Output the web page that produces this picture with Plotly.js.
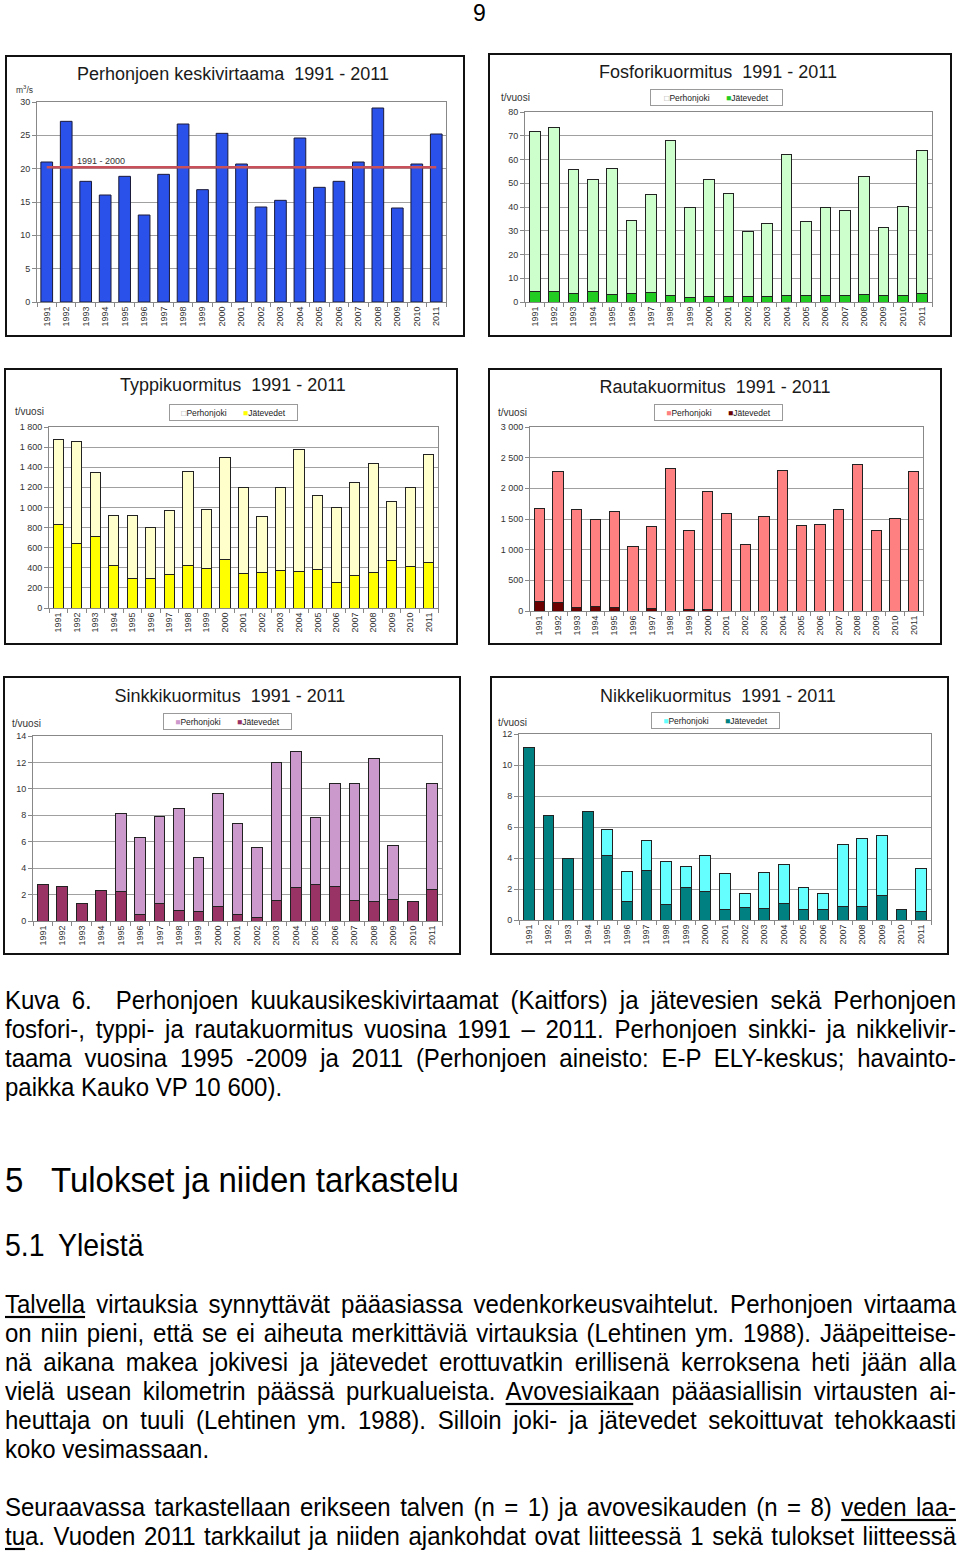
<!DOCTYPE html>
<html>
<head>
<meta charset="utf-8">
<script src="https://cdn.plot.ly/plotly-3.0.1.min.js"></script>
<style>
  html, body { margin: 0; padding: 0; background: #fff; }
  body { width: 960px; height: 1553px; position: relative; overflow: hidden;
         font-family: "Liberation Sans", Arial, sans-serif; color: #000; }
  .box { position: absolute; border: 2px solid #111; box-sizing: border-box; background: #fff; }
  .box > div { width: 100%; height: 100%; }
  .line { position: absolute; left: 5px; width: 951px; font-size: 24px; line-height: 29px;
          white-space: nowrap; text-align: justify; text-align-last: justify;
          transform: scaleY(1.08); transform-origin: 0 50%; }
  .line.last { text-align-last: left; }
  .txt { position: absolute; white-space: nowrap; transform: scaleY(1.08); transform-origin: 0 50%; }
  .pageno { position: absolute; left: 473px; top: 1px; font-size: 23px; line-height: 24px; }
  u { text-decoration-thickness: 1.5px; text-underline-offset: 3px; }
</style>
</head>
<body>

<div class="pageno">9</div>

<div id="c1" class="box"><div></div></div>
<div id="c2" class="box"><div></div></div>
<div id="c3" class="box"><div></div></div>
<div id="c4" class="box"><div></div></div>
<div id="c5" class="box"><div></div></div>
<div id="c6" class="box"><div></div></div>

<div class="line" style="top:985px;">Kuva 6.&nbsp; Perhonjoen kuukausikeskivirtaamat (Kaitfors) ja jätevesien sekä Perhonjoen</div>
<div class="line" style="top:1014px;">fosfori-, typpi- ja rautakuormitus vuosina 1991 – 2011. Perhonjoen sinkki- ja nikkelivir-</div>
<div class="line" style="top:1043px;">taama vuosina 1995 -2009 ja 2011 (Perhonjoen aineisto: E-P ELY-keskus; havainto-</div>
<div class="line last" style="top:1072px;">paikka Kauko VP 10 600).</div>

<div class="txt" style="left:5px; top:1161px; font-size:33px;">5</div>
<div class="txt" style="left:51px; top:1161px; font-size:33px;">Tulokset ja niiden tarkastelu</div>
<div class="txt" style="left:5px; top:1229px; font-size:28.5px;">5.1</div>
<div class="txt" style="left:58px; top:1229px; font-size:28.5px;">Yleistä</div>

<div class="line" style="top:1289px;"><u>Talvella</u> virtauksia synnyttävät pääasiassa vedenkorkeusvaihtelut. Perhonjoen virtaama</div>
<div class="line" style="top:1318px;">on niin pieni, että se ei aiheuta merkittäviä virtauksia (Lehtinen ym. 1988). Jääpeitteise-</div>
<div class="line" style="top:1347px;">nä aikana makea jokivesi ja jätevedet erottuvatkin erillisenä kerroksena heti jään alla</div>
<div class="line" style="top:1376px;">vielä usean kilometrin päässä purkualueista. <u>Avovesiaika</u>an pääasiallisin virtausten ai-</div>
<div class="line" style="top:1405px;">heuttaja on tuuli (Lehtinen ym. 1988). Silloin joki- ja jätevedet sekoittuvat tehokkaasti</div>
<div class="line last" style="top:1434px;">koko vesimassaan.</div>
<div class="line" style="top:1492px;">Seuraavassa tarkastellaan erikseen talven (n = 1) ja avovesikauden (n = 8) <u>veden laa-</u></div>
<div class="line" style="top:1521px;"><u>tu</u>a. Vuoden 2011 tarkkailut ja niiden ajankohdat ovat liitteessä 1 sekä tulokset liitteessä</div>

<script>
  // --- data ---
  const years = ["1991", "1992", "1993", "1994", "1995", "1996", "1997", "1998", "1999", "2000",
    "2001", "2002", "2003", "2004", "2005", "2006", "2007", "2008", "2009", "2010", "2011"];

  const virtaama = [21.0, 27.1, 18.1, 16.05, 18.85, 13.05, 19.15, 26.7, 16.85, 25.3,
    20.7, 14.25, 15.25, 24.6, 17.2, 18.1, 21.0, 29.1, 14.1, 20.7, 25.2];
  const virtaamaKa9100 = 20.2;

  const fosforiJoki = [67.0, 68.9, 52.1, 47.0, 53.1, 30.8, 41.2, 65.1, 37.9, 49.1,
    43.1, 27.4, 30.6, 59.1, 30.9, 36.9, 35.9, 49.6, 28.6, 37.6, 60.2];
  const fosforiJate = [4.6, 4.4, 3.6, 4.4, 3.2, 3.6, 3.9, 2.8, 2.0, 2.4,
    2.4, 2.4, 2.4, 2.8, 2.8, 2.8, 2.8, 3.2, 2.8, 2.8, 3.4];

  const typpiJoki = [844, 1016, 638, 501, 631, 511, 637, 930, 584, 1016,
    853, 558, 826, 1212, 744, 747, 926, 1082, 591, 787, 1079];
  const typpiJate = [833, 641, 707, 422, 289, 289, 329, 425, 395, 481,
    342, 352, 369, 362, 378, 252, 319, 352, 468, 408, 448];

  const rautaJoki = [1525, 2150, 1596, 1415, 1558, 1045, 1345, 2325, 1290, 1922,
    1590, 1089, 1541, 2298, 1399, 1416, 1655, 2390, 1307, 1508, 2281];
  const rautaJate = [147, 131, 65, 71, 65, 0, 38, 0, 22, 22,
    0, 0, 0, 0, 0, 0, 0, 0, 0, 0, 0];

  const sinkkiJoki = [null, null, null, null, 5.9, 5.82, 6.55, 7.67, 4.07, 8.6,
    6.9, 5.25, 10.49, 10.3, 5.05, 7.82, 8.88, 10.84, 4.06, null, 8.02];
  const sinkkiJate = [2.8, 2.6, 1.35, 2.3, 2.25, 0.48, 1.35, 0.83, 0.7, 1.06,
    0.5, 0.3, 1.54, 2.5, 2.8, 2.62, 1.54, 1.46, 1.64, 1.46, 2.4];

  const nikkeliJoki = [null, null, null, null, 1.7, 1.96, 1.92, 2.83, 1.35, 2.26,
    2.26, 0.9, 2.31, 2.49, 1.39, 1.01, 4.02, 4.35, 3.83, null, 2.75];
  const nikkeliJate = [11.1, 6.77, 4.0, 7.0, 4.17, 1.18, 3.2, 0.97, 2.09, 1.87,
    0.71, 0.8, 0.77, 1.08, 0.71, 0.71, 0.84, 0.9, 1.61, 0.71, 0.58];

  const seriesNames = ["Perhonjoki", "Jätevedet"];

  const FONT = "Liberation Sans, Arial, sans-serif";
  const PALE = ["#ffffcc", "#ccffcc"];

  function drawChart(cfg) {
    const holder = document.getElementById(cfg.id);
    const box = cfg.box;
    holder.style.left = box.x + "px";
    holder.style.top = box.y + "px";
    holder.style.width = box.w + "px";
    holder.style.height = box.h + "px";

    const w = box.w - 4;
    const h = box.h - 4;
    const ix = box.x + 2;
    const iy = box.y + 2;
    const p = cfg.plot;
    const px = (X) => (X - p.x0) / (p.x1 - p.x0);
    const py = (Y) => (p.y1 - Y) / (p.y1 - p.y0);

    const annotations = [{
      text: cfg.unit, xref: "paper", yref: "paper",
      x: px(cfg.unitPos[0]), y: py(cfg.unitPos[1]),
      xanchor: "center", yanchor: "middle", showarrow: false,
      font: { size: cfg.unitSize || 10, color: "#333" }
    }];

    (cfg.notes || []).forEach((n) => {
      annotations.push({
        text: n.text, xref: "paper", yref: "paper", x: px(n.x), y: py(n.y),
        xanchor: "center", yanchor: "middle", showarrow: false,
        font: { size: n.size, color: "#333" }
      });
    });

    // compact Excel-style legend box, entries taken from the stacked traces
    if (cfg.legendPos) {
      const entries = cfg.traces.slice().reverse().map((t) => {
        const pale = PALE.includes(t.marker.color);
        return `<span style="color:${pale ? "#9a9a9a" : t.marker.color}">${pale ? "□" : "■"}</span>${t.name}`;
      });
      annotations.push({
        text: entries.join("&nbsp;&nbsp;&nbsp;&nbsp;&nbsp;&nbsp;&nbsp;"),
        xref: "paper", yref: "paper",
        x: px(cfg.legendPos[0]), y: py(cfg.legendPos[1]),
        xanchor: "center", yanchor: "middle", showarrow: false,
        font: { size: 8.5, color: "#222" },
        bordercolor: "#9a9a9a", borderwidth: 1, borderpad: 2.5, bgcolor: "#fff",
        width: cfg.legendW, align: "center"
      });
    }

    const layout = {
      width: w,
      height: h,
      paper_bgcolor: "#fff",
      plot_bgcolor: "#fff",
      font: { family: FONT, color: "#222" },
      margin: { l: p.x0 - ix, r: ix + w - p.x1, t: p.y0 - iy, b: iy + h - p.y1, pad: 0 },
      title: {
        text: cfg.title,
        xref: "container", yref: "container",
        x: (cfg.titlePos[0] - ix) / w, y: 1 - (cfg.titlePos[1] - iy) / h,
        xanchor: "center", yanchor: "middle",
        font: { size: 18, color: "#1a1a1a", family: FONT }
      },
      barmode: "stack",
      bargap: cfg.bargap,
      showlegend: false,
      xaxis: {
        type: "category",
        showline: true, linecolor: "#888", mirror: true,
        ticks: "outside", tickson: "boundaries", ticklen: 4, tickcolor: "#888",
        tickangle: -90, tickfont: { size: 9, color: "#333" },
        showgrid: false, fixedrange: true
      },
      yaxis: {
        range: cfg.range, dtick: cfg.dtick, tick0: 0,
        showline: true, linecolor: "#888", mirror: true,
        ticks: "outside", ticklen: 4, tickcolor: "#888",
        gridcolor: "#a0a0a0", gridwidth: 1, zeroline: false,
        tickfont: { size: 9, color: "#333" },
        separatethousands: true, fixedrange: true
      },
      separators: ". ",
      annotations
    };

    Plotly.newPlot(holder.firstElementChild, cfg.traces, layout,
      { displayModeBar: false, staticPlot: true });
  }

  function stacked(jate, joki, cJate, cJoki) {
    return [
      { type: "bar", x: years, y: jate, name: seriesNames[1],
        marker: { color: cJate, line: { color: "#222", width: 1 } } },
      { type: "bar", x: years, y: joki, name: seriesNames[0],
        marker: { color: cJoki, line: { color: "#222", width: 1 } } }
    ];
  }

  drawChart({
    id: "c1",
    box: { x: 5, y: 55, w: 460, h: 282 },
    plot: { x0: 36.7, y0: 101.7, x1: 446, y1: 301.7 },
    title: "Perhonjoen keskivirtaama&nbsp;&nbsp;1991 - 2011",
    titlePos: [233, 74],
    unit: "m<sup>3</sup>/s", unitPos: [24, 89], unitSize: 8.5,
    notes: [{ text: "1991 - 2000", x: 101, y: 160.5, size: 9 }],
    range: [0, 30], dtick: 5, bargap: 0.4,
    traces: [
      { type: "bar", x: years, y: virtaama, name: "Keskivirtaama",
        marker: { color: "#2a52ea", line: { color: "#1a1a3a", width: 1 } } },
      { type: "scatter", mode: "lines", x: [years[0], years[years.length - 1]],
        y: [virtaamaKa9100, virtaamaKa9100], name: "1991 - 2000",
        line: { color: "#c8505a", width: 2.5 } }
    ]
  });

  drawChart({
    id: "c2",
    box: { x: 488, y: 53, w: 464, h: 284 },
    plot: { x0: 525, y0: 111.7, x1: 932, y1: 301.7 },
    title: "Fosforikuormitus&nbsp;&nbsp;1991 - 2011",
    titlePos: [718, 72],
    unit: "t/vuosi", unitPos: [515, 97],
    legendPos: [716.5, 97], legendW: 126,
    range: [0, 80], dtick: 10, bargap: 0.45,
    traces: stacked(fosforiJate, fosforiJoki, "#22cc22", "#ccffcc")
  });

  drawChart({
    id: "c3",
    box: { x: 4, y: 368, w: 454, h: 277 },
    plot: { x0: 49.3, y0: 427, x1: 438, y1: 607.7 },
    title: "Typpikuormitus&nbsp;&nbsp;1991 - 2011",
    titlePos: [233, 385],
    unit: "t/vuosi", unitPos: [30, 412],
    legendPos: [234, 413], legendW: 122,
    range: [0, 1800], dtick: 200, bargap: 0.45,
    traces: stacked(typpiJate, typpiJoki, "#ffff00", "#ffffcc")
  });

  drawChart({
    id: "c4",
    box: { x: 488, y: 368, w: 454, h: 277 },
    plot: { x0: 530, y0: 427, x1: 922.7, y1: 610.7 },
    title: "Rautakuormitus&nbsp;&nbsp;1991 - 2011",
    titlePos: [715, 387],
    unit: "t/vuosi", unitPos: [513, 413],
    legendPos: [718, 413], legendW: 122,
    range: [0, 3000], dtick: 500, bargap: 0.45,
    traces: stacked(rautaJate, rautaJoki, "#6a0000", "#ff8080")
  });

  drawChart({
    id: "c5",
    box: { x: 3, y: 676, w: 458, h: 279 },
    plot: { x0: 33.3, y0: 735.7, x1: 441.7, y1: 920.7 },
    title: "Sinkkikuormitus&nbsp;&nbsp;1991 - 2011",
    titlePos: [230, 695.7],
    unit: "t/vuosi", unitPos: [27, 722.7],
    legendPos: [228, 721.5], legendW: 122,
    range: [0, 14], dtick: 2, bargap: 0.45,
    traces: stacked(sinkkiJate, sinkkiJoki, "#993366", "#cc99cc")
  });

  drawChart({
    id: "c6",
    box: { x: 490, y: 676, w: 459, h: 279 },
    plot: { x0: 518.7, y0: 734, x1: 931.3, y1: 920 },
    title: "Nikkelikuormitus&nbsp;&nbsp;1991 - 2011",
    titlePos: [718, 695.7],
    unit: "t/vuosi", unitPos: [512, 722.7],
    legendPos: [715.5, 720], legendW: 122,
    range: [0, 12], dtick: 2, bargap: 0.45,
    traces: stacked(nikkeliJate, nikkeliJoki, "#008080", "#66ffff")
  });
</script>
</body>
</html>
